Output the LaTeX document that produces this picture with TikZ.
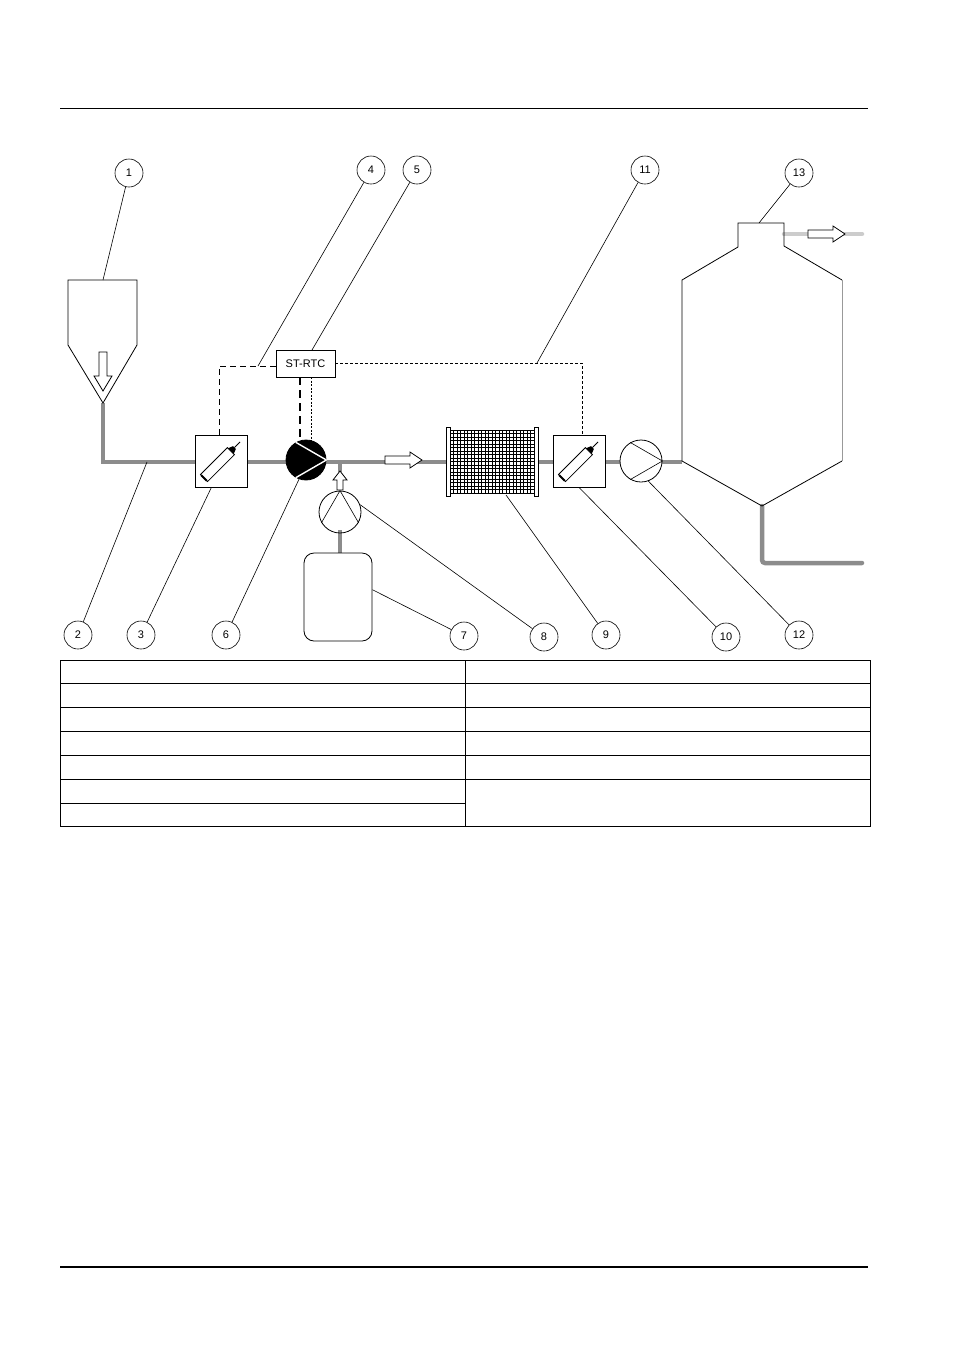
\documentclass[tikz,border=0pt]{standalone}
\usepackage{fontspec}
\setmainfont{Liberation Sans}
\tikzset{
    pipe/.style={line width=4.5pt,color=black!45},
    callout/.style={circle,draw,line width=0.6pt,minimum size=28pt,inner sep=0pt,font=\fontsize{11}{13}\selectfont},
    leader/.style={line width=0.6pt},
    sensorbox/.style={draw,line width=0.8pt,minimum size=52pt,inner sep=0pt},
    pumpc/.style={circle,draw,line width=0.8pt,minimum size=42pt,inner sep=0pt},
    blockarrow/.style={draw,fill=white,line width=0.8pt},
}
\begin{document}
\begin{tikzpicture}[x=1pt,y=-1pt]
    \useasboundingbox (0,0) rectangle (954,1350);
    \draw[line width=0.8pt] (60,108) -- (868,108);
    \draw[line width=1.6pt] (60,1267) -- (868,1267);
    % rohrleitungen
    \draw[pipe] (103,403) -- (103,462) -- (195,462);
    \draw[pipe] (247,462) -- (290,462);
    \draw[pipe] (320,462) -- (446,462);
    \draw[pipe] (340,462) -- (340,472);
    \draw[pipe] (340,530) -- (340,553);
    \draw[pipe] (538,462) -- (553,462);
    \draw[pipe] (605,462) -- (620,462);
    \draw[pipe] (662,462) -- (682,462);
    \draw[pipe,line cap=round,rounded corners=3pt] (762,506) -- (762,563) -- (862,563);
    \draw[pipe,color=black!20,line cap=round] (784,234) -- (862,234);
    % silo
    \draw[line width=0.8pt] (68,280) -- (137,280) -- (137,345) -- (103,403) -- (68,345) -- cycle;
    \draw[blockarrow,shift={(103,352)}] (-4,0) -- (-4,24) -- (-9,24) -- (0,39) -- (9,24) -- (4,24) -- (4,0) -- cycle;
    % sensoren
    \foreach \n/\x in {s3/221,s10/579} {
        \node[sensorbox] (\n) at (\x,461) {};
        \begin{scope}[shift={(\x,461)},rotate=45,line width=0.8pt]
            \draw[fill=white] (-24,-5) rectangle (14,5);
            \draw[line width=2pt] (-24,-4) -- (-24,4);
            \fill (14,-4) -- (19,-2) -- (19,2) -- (14,4) -- cycle;
            \draw (19,0) -- (27,0);
        \end{scope}
    }
    % pumpen
    \node[pumpc,fill=black,minimum size=40pt] (p6) at (306,460) {};
    \draw[white,line width=1.4pt] (p6.east) -- (p6.120) (p6.east) -- (p6.240);
    \node[pumpc] (p12) at (641,461) {};
    \draw[line width=0.6pt] (p12.east) -- (p12.120) (p12.east) -- (p12.240);
    \node[pumpc] (p8) at (340,512) {};
    \draw[line width=0.6pt] (p8.north) -- (p8.210) (p8.north) -- (p8.330);
    \draw[blockarrow,shift={(340,490)}] (-3,0) -- (-3,-10) -- (-7,-10) -- (0,-19) -- (7,-10) -- (3,-10) -- (3,0) -- cycle;
    \draw[blockarrow,shift={(385,460)}] (0,-4) -- (25,-4) -- (25,-8) -- (37,0) -- (25,8) -- (25,4) -- (0,4) -- cycle;
    % dosiertank
    \node[draw,line width=0.8pt,rounded corners=10pt,minimum width=68pt,minimum height=88pt] (t7) at (338,597) {};
    % filter
    \foreach \x in {450,453.5,...,534} \draw[line width=0.5pt] (\x,430) -- (\x,493);
    \foreach \y in {430,433.5,...,493} \draw[line width=0.5pt] (450,\y) -- (534,\y);
    \draw[line width=0.8pt,fill=white] (446,427) rectangle (450,496);
    \draw[line width=0.8pt,fill=white] (534,427) rectangle (538,496);
    \coordinate (f9) at (506,495);
    % reaktor
    \draw[line width=0.8pt] (842,461) -- (762,506) -- (682,461) -- (682,280) -- (738,247) -- (738,223) -- (784,223) -- (784,246) -- (842,280);
    \draw[line width=0.8pt,black!40] (842,280) -- (842,461);
    \draw[blockarrow,shift={(808,234)}] (0,-4) -- (25,-4) -- (25,-8) -- (37,0) -- (25,8) -- (25,4) -- (0,4) -- cycle;
    % regler
    \node[draw,line width=0.8pt,minimum width=59pt,minimum height=27pt,inner sep=0pt,font=\fontsize{11}{13}\selectfont] (rtc) at (305.5,363.5) {ST-RTC};
    \draw[dashed,line width=0.8pt,dash pattern=on 6pt off 4pt] (rtc.west |- 0,366) -- (219,366) -- (219,435);
    \draw[line width=2pt,dash pattern=on 8pt off 5pt] (300,377) -- (300,440);
    \draw[line width=0.6pt,dash pattern=on 2pt off 1.5pt] (311,377) -- (311,442);
    \draw[line width=1pt,dash pattern=on 3pt off 2pt] (rtc.east |- 0,363) -- (582,363) -- (582,435);
    % positionsnummern
    \foreach \n/\x/\y in {1/129/173,4/371/170,5/417/170,11/645/170,13/799/173,2/78/635,3/141/635,6/226/635,7/464/636,8/544/637,9/606/635,10/726/637,12/799/635}
        \node[callout] (c\n) at (\x,\y) {\n};
    \draw[leader] (c1) -- (103,280);
    \draw[leader] (c4) -- (258,366);
    \draw[leader] (c5) -- (312,350);
    \draw[leader] (c11) -- (537,363);
    \draw[leader] (c13) -- (759,223);
    \draw[leader] (c2) -- (147,462);
    \draw[leader] (c3) -- (s3.250);
    \draw[leader] (c6) -- (p6.250);
    \draw[leader] (c7) -- (t7.12);
    \draw[leader] (c8) -- (p8.20);
    \draw[leader] (c9) -- (f9);
    \draw[leader] (c10) -- (s10.south);
    \draw[leader] (c12) -- (p12.290);
    % tabelle
    \draw[line width=0.8pt] (60,660) rectangle (870,826);
    \foreach \y in {683,707,731,755,779} \draw[line width=0.8pt] (60,\y) -- (870,\y);
    \draw[line width=0.8pt] (60,803) -- (465,803);
    \draw[line width=0.8pt] (465,660) -- (465,826);
\end{tikzpicture}
\end{document}
